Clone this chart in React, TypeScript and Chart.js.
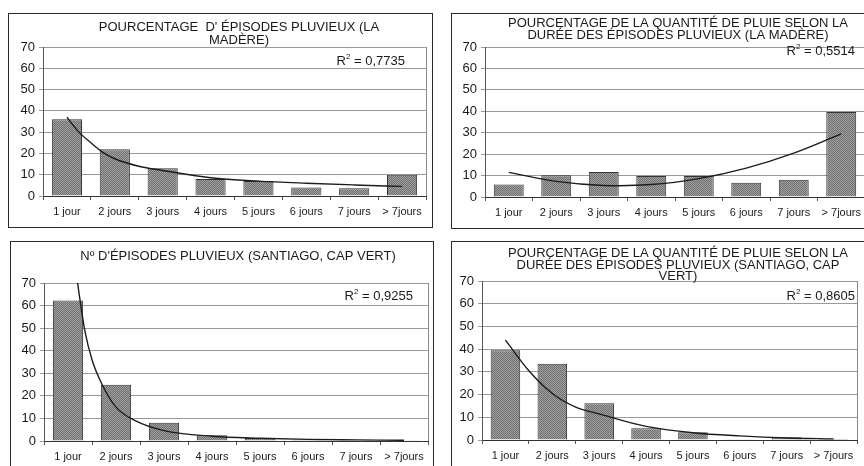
import React, { useEffect, useRef } from "react";
import { Chart, registerables } from "chart.js";

Chart.register(...registerables);

// ---------- DATA ----------
const categories = ["1 jour", "2 jours", "3 jours", "4 jours", "5 jours", "6 jours", "7 jours", "> 7jours"];
const yMin = 0;
const yMax = 70;
const yStep = 10;

// Madère: % of rainy episodes
const madereEpisodes = [36, 22, 13, 8, 7, 4, 3.6, 10];
const madereEpisodesTrendX = [1, 1.25, 1.5, 1.75, 2, 2.5, 3, 4, 5, 6, 7, 8];
const madereEpisodesTrendY = [37, 30, 25, 20.5, 17.5, 14, 12, 8.6, 7, 6, 5.2, 4.5];
const madereEpisodesR2 = "0,7735";

// Madère: % of rain amount by duration
const madereRain = [5.8, 10.1, 11.7, 9.8, 9.8, 6.7, 8.1, 39.7];
const madereRainTrendX = [1, 2, 3, 4, 5, 6, 7, 8];
const madereRainTrendY = [11.5, 7.3, 5.4, 5.8, 8.6, 13.5, 20.5, 29.5];
const madereRainR2 = "0,5514";

// Santiago: nº of rainy episodes
const santiagoEpisodes = [62.3, 24.9, 8.1, 2.5, 1.3, 0.6, 0.3, 0.3];
const santiagoEpisodesTrendX = [1.15, 1.2, 1.35, 1.5, 1.7, 2, 2.4, 3, 4, 5, 6, 7, 8];
const santiagoEpisodesTrendY = [78, 70, 49, 36, 25.5, 15, 9, 4.6, 2.1, 1.2, 0.7, 0.5, 0.3];
const santiagoEpisodesR2 = "0,9255";

// Santiago: % of rain amount by duration
const santiagoRain = [39.5, 33.6, 16.2, 5.2, 3.4, 0.3, 1.2, 0.4];
const santiagoRainTrendX = [1, 1.5, 2, 2.5, 3, 4, 5, 6, 7, 8];
const santiagoRainTrendY = [44, 30.5, 20.5, 14.5, 11.5, 6, 3.2, 1.8, 0.9, 0.5];
const santiagoRainR2 = "0,8605";

const titleP1 = ["POURCENTAGE  D' ÉPISODES PLUVIEUX (LA", "MADÈRE)"];
const titleP2 = ["POURCENTAGE DE LA QUANTITÉ DE PLUIE SELON LA", "DURÉE DES ÉPISODES PLUVIEUX (LA MADÈRE)"];
const titleP3 = ["Nº D'ÉPISODES PLUVIEUX (SANTIAGO, CAP VERT)"];
const titleP4 = ["POURCENTAGE DE LA QUANTITÉ DE PLUIE SELON LA", "DURÉE DES ÉPISODES PLUVIEUX (SANTIAGO, CAP", "VERT)"];

// ---------- LAYOUT ----------
const FONT = "Arial, 'Liberation Sans', sans-serif";

type Panel = {
  box: { x: number; y: number; w: number; h: number };
  plot: { l: number; t: number; r: number; b: number };
  title: string[];
  titleX: number;
  titleY: number[];
  r2: string;
  r2X: number;
  r2Y: number;
  bars: number[];
  trendX: number[];
  trendY: number[];
  monotone: boolean;
};

const panels: Panel[] = [
  {
    box: { x: 8, y: 13, w: 425, h: 215 },
    plot: { l: 43, t: 47, r: 426, b: 196 },
    title: titleP1, titleX: 239, titleY: [27, 40],
    r2: madereEpisodesR2, r2X: 405, r2Y: 61,
    bars: madereEpisodes, trendX: madereEpisodesTrendX, trendY: madereEpisodesTrendY, monotone: true,
  },
  {
    box: { x: 451, y: 13, w: 425, h: 216 },
    plot: { l: 485, t: 47, r: 865, b: 197 },
    title: titleP2, titleX: 678, titleY: [23, 35],
    r2: madereRainR2, r2X: 855, r2Y: 51,
    bars: madereRain, trendX: madereRainTrendX, trendY: madereRainTrendY, monotone: false,
  },
  {
    box: { x: 10, y: 241, w: 424, h: 240 },
    plot: { l: 44, t: 283, r: 428, b: 441 },
    title: titleP3, titleX: 238, titleY: [256],
    r2: santiagoEpisodesR2, r2X: 413, r2Y: 296,
    bars: santiagoEpisodes, trendX: santiagoEpisodesTrendX, trendY: santiagoEpisodesTrendY, monotone: true,
  },
  {
    box: { x: 451, y: 241, w: 425, h: 240 },
    plot: { l: 482, t: 281, r: 857, b: 440 },
    title: titleP4, titleX: 678, titleY: [253, 265, 276],
    r2: santiagoRainR2, r2X: 855, r2Y: 296,
    bars: santiagoRain, trendX: santiagoRainTrendX, trendY: santiagoRainTrendY, monotone: true,
  },
];

function makePattern(ctx: CanvasRenderingContext2D): CanvasPattern | string {
  const c = document.createElement("canvas");
  c.width = 2;
  c.height = 2;
  const p = c.getContext("2d");
  if (!p) return "#8f8f8f";
  p.fillStyle = "#a0a0a0";
  p.fillRect(0, 0, 2, 2);
  p.fillStyle = "#707070";
  p.fillRect(0, 0, 1, 1);
  p.fillRect(1, 1, 1, 1);
  return ctx.createPattern(c, "repeat") || "#8f8f8f";
}

function ChartPanel({ cfg }: { cfg: Panel }) {
  const ref = useRef<HTMLCanvasElement | null>(null);
  useEffect(() => {
    const canvas = ref.current;
    if (!canvas) return;
    const ctx = canvas.getContext("2d");
    if (!ctx) return;
    const ox = cfg.box.x + 1;
    const oy = cfg.box.y + 1;
    const cw = cfg.box.w - 2;
    const ch = cfg.box.h - 2;
    const yAxisW = cfg.plot.l - ox;
    const padTop = cfg.plot.t - oy;
    const padRight = ox + cw - cfg.plot.r;
    const xAxisH = 34;
    const padBottom = oy + ch - cfg.plot.b - xAxisH;

    const overlay = {
      id: "overlay",
      beforeDatasetsDraw(chart: any) {
        const a = chart.chartArea;
        const c = chart.ctx;
        c.save();
        c.strokeStyle = "#8a8a8a";
        c.lineWidth = 1;
        c.beginPath();
        c.moveTo(Math.round(a.right) + 0.5, a.top);
        c.lineTo(Math.round(a.right) + 0.5, a.bottom);
        c.stroke();
        c.restore();
      },
      afterDraw(chart: any) {
        const c = chart.ctx;
        c.save();
        c.fillStyle = "#1a1a1a";
        c.textAlign = "center";
        c.textBaseline = "middle";
        c.font = `13px ${FONT}`;
        cfg.title.forEach((line, i) => {
          c.fillText(line, cfg.titleX - ox, cfg.titleY[i] - oy);
        });
        // R² label
        c.textAlign = "left";
        c.font = `13px ${FONT}`;
        const rest = " = " + cfg.r2;
        const wR = c.measureText("R").width;
        const wRest = c.measureText(rest).width;
        c.font = `8px ${FONT}`;
        const wSup = c.measureText("2").width;
        const total = wR + wSup + wRest;
        let x = cfg.r2X - ox - total;
        const y = cfg.r2Y - oy;
        c.font = `13px ${FONT}`;
        c.fillText("R", x, y);
        x += wR;
        c.font = `8px ${FONT}`;
        c.fillText("2", x, y - 4);
        x += wSup;
        c.font = `13px ${FONT}`;
        c.fillText(rest, x, y);
        c.restore();
      },
    };

    const chart = new Chart(ctx, {
      type: "bar",
      data: {
        labels: categories,
        datasets: [
          {
            type: "line",
            data: cfg.trendX.map((x, i) => ({ x, y: cfg.trendY[i] })),
            xAxisID: "x2",
            yAxisID: "y",
            borderColor: "#1c1c1c",
            borderWidth: 1.4,
            pointRadius: 0,
            fill: false,
            tension: cfg.monotone ? 0 : 0.4,
            cubicInterpolationMode: cfg.monotone ? "monotone" : "default",
            order: 0,
          } as any,
          {
            type: "bar",
            data: cfg.bars,
            xAxisID: "x",
            yAxisID: "y",
            backgroundColor: makePattern(ctx),
            borderColor: "#333333",
            borderWidth: 1,
            grouped: false,
            barPercentage: 0.63,
            categoryPercentage: 1,
            order: 1,
          } as any,
        ],
      },
      options: {
        responsive: false,
        animation: false,
        events: [],
        layout: { padding: { top: padTop, right: padRight, bottom: padBottom, left: 0 } },
        plugins: {
          legend: { display: false },
          tooltip: { enabled: false },
          title: { display: false },
        },
        scales: {
          x: {
            type: "category",
            offset: true,
            afterFit: (axis: any) => {
              axis.height = xAxisH;
            },
            grid: {
              offset: true,
              drawOnChartArea: false,
              drawTicks: true,
              tickLength: 4,
              color: "#555",
            },
            border: { color: "#333", width: 1 },
            ticks: {
              color: "#1a1a1a",
              font: { family: FONT, size: 11 },
              padding: 5,
              maxRotation: 0,
              autoSkip: false,
            },
          },
          x2: {
            type: "linear",
            display: false,
            offset: false,
            grid: { offset: false },
            min: 0.5,
            max: 8.5,
          },
          y: {
            type: "linear",
            min: yMin,
            max: yMax,
            afterFit: (axis: any) => {
              axis.width = yAxisW;
            },
            ticks: {
              stepSize: yStep,
              color: "#1a1a1a",
              font: { family: FONT, size: 13 },
              padding: 4,
            },
            grid: {
              color: "#9a9a9a",
              lineWidth: 1,
              drawTicks: true,
              tickLength: 4,
            },
            border: { color: "#555", width: 1 },
          },
        },
      },
      plugins: [overlay],
    } as any);
    return () => chart.destroy();
  }, [cfg]);

  return (
    <div
      style={{
        position: "absolute",
        left: cfg.box.x,
        top: cfg.box.y,
        width: cfg.box.w,
        height: cfg.box.h,
        boxSizing: "border-box",
        border: "1px solid #2a2a2a",
        background: "#ffffff",
      }}
    >
      <canvas
        ref={ref}
        width={cfg.box.w - 2}
        height={cfg.box.h - 2}
        style={{ display: "block", width: cfg.box.w - 2, height: cfg.box.h - 2 }}
      />
    </div>
  );
}

export default function App() {
  return (
    <div
      style={{
        position: "absolute",
        left: 0,
        top: 0,
        width: 864,
        height: 466,
        overflow: "hidden",
        background: "#ffffff",
      }}
    >
      {panels.map((p, i) => (
        <ChartPanel key={i} cfg={p} />
      ))}
    </div>
  );
}
